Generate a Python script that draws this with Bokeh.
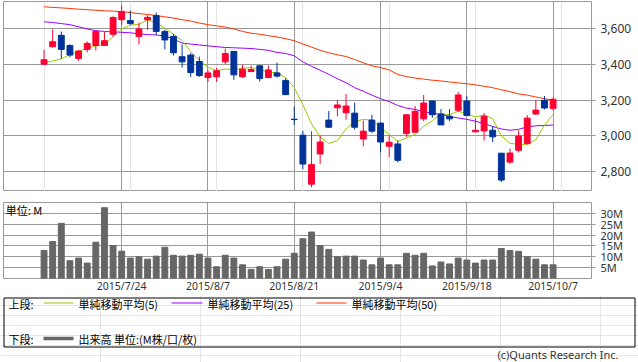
from bokeh.plotting import figure
from bokeh.layouts import column
from bokeh.models import Range1d, FixedTicker, Grid, NumeralTickFormatter, Label
from bokeh.embed import file_html
from bokeh.resources import INLINE
from bokeh.core.properties import value

# ---------------- data ----------------
dates = ["2015/7/10", "2015/7/13", "2015/7/14", "2015/7/15", "2015/7/16", "2015/7/17",
         "2015/7/21", "2015/7/22", "2015/7/23", "2015/7/24", "2015/7/27", "2015/7/28",
         "2015/7/29", "2015/7/30", "2015/7/31",
         "2015/8/3", "2015/8/4", "2015/8/5", "2015/8/6", "2015/8/7",
         "2015/8/10", "2015/8/11", "2015/8/12", "2015/8/13", "2015/8/14",
         "2015/8/17", "2015/8/18", "2015/8/19", "2015/8/20", "2015/8/21",
         "2015/8/24", "2015/8/25", "2015/8/26", "2015/8/27", "2015/8/28", "2015/8/31",
         "2015/9/1", "2015/9/2", "2015/9/3", "2015/9/4",
         "2015/9/7", "2015/9/8", "2015/9/9", "2015/9/10", "2015/9/11",
         "2015/9/14", "2015/9/15", "2015/9/16", "2015/9/17", "2015/9/18",
         "2015/9/24", "2015/9/25", "2015/9/28", "2015/9/29", "2015/9/30",
         "2015/10/1", "2015/10/2", "2015/10/5", "2015/10/6", "2015/10/7"]

opens = [3402, 3500, 3564, 3507, 3434, 3485, 3507, 3507, 3570, 3652,
         3647, 3558, 3651, 3675, 3585, 3558, 3444, 3453, 3417, 3327,
         3331, 3415, 3474, 3331, 3361, 3393, 3327, 3353, 3310, 3093,
         3003, 2728, 2898, 3088, 3157, 3129, 3127, 2982, 3088, 3071,
         2941, 2954, 3013, 3020, 3095, 3195, 3122, 3110, 3143, 3195,
         3022, 3027, 3031, 2902, 2852, 2919, 2956, 3122, 3199, 3154]
highs = [3483, 3598, 3585, 3513, 3481, 3530, 3592, 3583, 3671, 3728,
         3703, 3636, 3677, 3692, 3596, 3570, 3513, 3464, 3444, 3370,
         3382, 3490, 3476, 3400, 3394, 3395, 3394, 3410, 3323, 3165,
         3028, 3026, 3002, 3139, 3201, 3235, 3186, 3086, 3118, 3075,
         3002, 2973, 3120, 3167, 3229, 3198, 3150, 3150, 3246, 3223,
         3098, 3127, 3054, 2904, 2928, 3030, 3116, 3201, 3223, 3214]
lows = [3397, 3496, 3432, 3440, 3421, 3468, 3479, 3505, 3557, 3624,
        3623, 3513, 3594, 3566, 3485, 3451, 3383, 3331, 3331, 3302,
        3302, 3402, 3314, 3325, 3357, 3304, 3323, 3327, 3229, 3061,
        2813, 2711, 2841, 3044, 3110, 3090, 3035, 2941, 3016, 2907,
        2881, 2851, 2994, 3016, 3082, 3101, 3060, 3082, 3133, 3110,
        3020, 2973, 2964, 2740, 2841, 2907, 2951, 3116, 3148, 3143]
closes = [3427, 3528, 3485, 3453, 3476, 3519, 3586, 3534, 3664, 3698,
          3630, 3600, 3665, 3586, 3538, 3466, 3415, 3355, 3338, 3353,
          3365, 3462, 3342, 3374, 3372, 3321, 3370, 3335, 3231, 3091,
          2841, 2838, 2965, 3048, 3173, 3167, 3048, 3026, 3026, 2965,
          2964, 2862, 3118, 3137, 3184, 3118, 3061, 3095, 3229, 3114,
          3031, 3110, 2994, 2751, 2903, 2998, 3099, 3144, 3156, 3205]

ma5 = [3408, 3420, 3432, 3455, 3474, 3492, 3504, 3514, 3556, 3600,
       3622, 3625, 3651, 3636, 3604, 3571, 3534, 3472, 3422, 3385,
       3365, 3375, 3372, 3379, 3383, 3374, 3356, 3354, 3326, 3270,
       3174, 3067, 2993, 2957, 2973, 3038, 3080, 3092, 3088, 3046,
       3006, 2969, 2987, 3009, 3053, 3084, 3124, 3119, 3137, 3123,
       3106, 3116, 3096, 3000, 2958, 2951, 2949, 2979, 3060, 3120]
ma25 = [3640, 3636, 3630, 3624, 3612, 3600, 3590, 3586, 3583, 3581,
        3578, 3573, 3568, 3566, 3560, 3544, 3520, 3515, 3510, 3505,
        3500, 3496, 3494, 3492, 3490, 3485, 3480, 3468, 3462, 3449,
        3415, 3390, 3368, 3345, 3320, 3298, 3270, 3250, 3228, 3208,
        3192, 3170, 3155, 3148, 3135, 3126, 3120, 3108, 3100, 3092,
        3082, 3068, 3052, 3038, 3031, 3036, 3050, 3056, 3058, 3060]
ma50 = [3724, 3721, 3718, 3715, 3711, 3708, 3705, 3702, 3700, 3697,
        3692, 3686, 3681, 3675, 3668, 3661, 3652, 3644, 3633, 3624,
        3617, 3610, 3600, 3586, 3576, 3570, 3562, 3555, 3545, 3534,
        3515, 3498, 3480, 3466, 3455, 3445, 3428, 3410, 3392, 3383,
        3370, 3344, 3332, 3324, 3318, 3312, 3308, 3302, 3297, 3292,
        3286, 3278, 3270, 3258, 3248, 3235, 3228, 3218, 3208, 3200]

volume_m = [12.9, 17.0, 25.4, 8.2, 9.4, 7.1, 16.7, 32.6, 15.2, 12.6,
            9.4, 10.0, 8.9, 10.3, 14.4, 10.7, 10.3, 10.7, 11.2, 9.4,
            5.4, 10.7, 9.4, 6.3, 4.2, 5.4, 4.2, 5.4, 8.9, 11.6,
            18.3, 21.4, 15.2, 13.4, 10.0, 10.3, 10.3, 8.5, 6.3, 9.4,
            6.3, 6.3, 11.6, 10.7, 11.6, 5.8, 7.6, 6.7, 9.4, 8.5,
            7.1, 8.5, 8.5, 13.8, 12.9, 12.5, 10.0, 8.9, 6.3, 6.3]

tick_dates = ["2015/7/24", "2015/8/7", "2015/8/21", "2015/9/4", "2015/9/18", "2015/10/7"]
price_ticks = [2800, 3000, 3200, 3400, 3600]
volume_ticks = [5, 10, 15, 20, 25, 30]
legend_labels = ["単純移動平均(5)", "単純移動平均(25)", "単純移動平均(50)"]
volume_label = "出来高 単位:(M株/口/枚)"

# ---------------- styles ----------------
UP = "#FF0033"
DOWN = "#003399"
C5, C25, C50 = "#99CC00", "#9900FF", "#FF3300"
VOLC = "#666666"
GRID = "#999999"
JP = "Noto Sans CJK JP"

idx = list(range(len(dates)))
tick_pos = [dates.index(d) for d in tick_dates]
colors = [UP if c > o else DOWN for o, c in zip(opens, closes)]
body_top = [max(o, c) for o, c in zip(opens, closes)]
body_bot = [min(o, c) for o, c in zip(opens, closes)]

xr = Range1d(-4.7, 63.45)


def style_right_axis(ax, size):
    ax.axis_line_color = None
    ax.major_tick_line_color = GRID
    ax.major_tick_out = 4
    ax.major_tick_in = 0
    ax.minor_tick_line_color = None
    ax.minor_tick_out = 0
    ax.major_label_text_font = "Noto Sans"
    ax.major_label_text_font_size = size
    ax.major_label_text_color = "#333333"
    ax.major_label_standoff = 5


# ---------------- price panel ----------------
pA = figure(width=638, height=191, x_range=xr, y_range=Range1d(2687, 3754),
            x_axis_location=None, y_axis_location="right",
            toolbar_location=None, output_backend="svg",
            min_border_left=3, min_border_right=47, min_border_top=1, min_border_bottom=0,
            outline_line_color=GRID, outline_line_width=1)
pA.yaxis.ticker = FixedTicker(ticks=price_ticks)
pA.yaxis.formatter = NumeralTickFormatter(format="0,0")
style_right_axis(pA.yaxis[0], "12px")
pA.ygrid.grid_line_color = GRID
pA.add_layout(Grid(dimension=0, ticker=FixedTicker(ticks=tick_pos), grid_line_color=GRID))

pA.line(idx, ma50, line_color=C50, line_width=1)
pA.line(idx, ma25, line_color=C25, line_width=1)
pA.line(idx, ma5, line_color=C5, line_width=1)
pA.segment(x0=idx, y0=highs, x1=idx, y1=lows, line_color=colors, line_width=1)
pA.vbar(x=idx, width=0.68, top=body_top, bottom=body_bot,
        fill_color=colors, line_color=colors, line_width=1)

# ---------------- volume panel ----------------
pB = figure(width=638, height=104, x_range=xr, y_range=Range1d(0, 35),
            y_axis_location="right", toolbar_location=None, output_backend="svg",
            min_border_left=3, min_border_right=47, min_border_top=11, min_border_bottom=15,
            outline_line_color=GRID, outline_line_width=1)
pB.vbar(x=idx, width=0.68, top=volume_m, bottom=0, fill_color=VOLC, line_color=VOLC)
pB.yaxis.ticker = FixedTicker(ticks=volume_ticks)
pB.yaxis.major_label_overrides = {t: f"{t}M" for t in volume_ticks}
style_right_axis(pB.yaxis[0], "11px")
pB.xaxis.ticker = FixedTicker(ticks=tick_pos)
pB.xaxis.major_label_overrides = {p: d for p, d in zip(tick_pos, tick_dates)}
pB.xaxis.axis_line_color = None
pB.xaxis.major_tick_line_color = None
pB.xaxis.major_tick_out = 0
pB.xaxis.major_tick_in = 0
pB.xaxis.minor_tick_line_color = None
pB.xaxis.minor_tick_out = 0
pB.xaxis.minor_tick_in = 0
pB.xaxis.major_label_text_font = "Noto Sans"
pB.xaxis.major_label_text_font_size = "10.5px"
pB.xaxis.major_label_text_color = "#333333"
pB.xaxis.major_label_standoff = 0
pB.xgrid.grid_line_color = GRID
pB.ygrid.grid_line_color = GRID
pB.add_layout(Label(x=-4.45, y=31.4, text="単位: M", text_font=JP, text_font_size="11px",
                    text_baseline="middle", text_color="#000000"))

# ---------------- legend panel (page y 295..362; y measured downward) ----------------
pC = figure(width=638, height=67, x_range=Range1d(0, 638), y_range=Range1d(67, 0),
            x_axis_location=None, y_axis_location=None, toolbar_location=None,
            output_backend="svg", min_border=0, outline_line_color=None,
            frame_align=False)
pC.quad(left=3.5, right=634.5, top=2.5, bottom=51.5, fill_color=None,
        line_color="#000000", line_width=1)
pC.segment(x0=[43, 171, 316], y0=[7.5, 7.5, 7.5], x1=[73, 202, 346], y1=[7.5, 7.5, 7.5],
           line_color=[C5, C25, C50], line_width=1)
pC.segment(x0=[43], y0=[43], x1=[73], y1=[43], line_color=VOLC, line_width=3.5)
pC.text(x=[8, 78, 207, 351, 8, 78], y=[8, 8, 8, 8, 43, 43],
        text=["上段:"] + legend_labels + ["下段:", volume_label],
        text_font=value(JP), text_font_size="11px", text_baseline="middle",
        text_align="left", text_color="#000000")
pC.text(x=[618], y=[59], text=["(c)Quants Research Inc."], text_font=value("Noto Sans"),
        text_font_size="11px", text_baseline="middle", text_align="right", text_color="#333333")

layout = column(pA, pB, pC, spacing=0)
html = file_html(layout, INLINE, title="chart")
html = html.replace("</head>", "<style>html,body{margin:0;padding:0;overflow:hidden}</style></head>", 1)
open("out.html", "w").write(html)
